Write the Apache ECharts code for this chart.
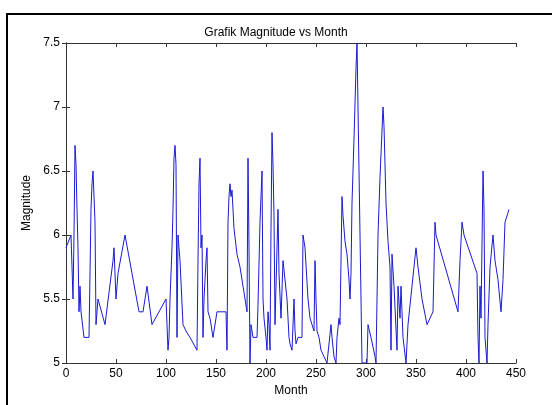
<!DOCTYPE html>
<html>
<head>
<meta charset="utf-8">
<script src="https://cdn.jsdelivr.net/npm/echarts@6/dist/echarts.min.js"></script>
<style>
html,body{margin:0;padding:0;background:#fff;}
#chart{width:552px;height:405px;}
</style>
</head>
<body>
<div id="chart"></div>
<script>
const titleText = 'Grafik Magnitude vs Month';
const xName = 'Month';
const yName = 'Magnitude';
const months = [0,5,7,8,9,10,11,12,13,14,15,18,23,25,26,27,29,30,32,39,47,48,50,52,59,73,77,81,86,100,101,102,103,104,106,107,108,109,110,111,112,113,114,117,120,124,131,132,133,134,135,136,137,138,140,141,142,144,147,151,160,161,162,163,164,165,166,168,171,174,177,179,181,182,183,184,185,187,191,192,194,196,197,198,200,201,202,203,204,205,206,207,208,209,210,212,213,215,217,218,221,223,224,226,228,229,230,232,236,237,239,241,242,244,246,248,249,250,251,253,255,258,261,265,266,268,270,271,273,274,276,277,279,281,283,284,285,286,288,290,291,292,293,296,301,302,305,309,310,312,314,317,318,320,322,324,325,326,328,331,332,334,335,337,340,342,346,350,352,356,361,367,369,370,392,394,396,398,411,412,413,414,415,417,418,419,421,422,424,427,429,432,435,437,439,443];
const magnitudes = [5.9,6.0,5.5,6.0,6.7,6.55,6.2,5.9,5.4,5.6,5.4,5.2,5.2,6.2,6.4,6.5,6.1,5.3,5.5,5.3,5.8,5.9,5.5,5.7,6.0,5.4,5.4,5.6,5.3,5.5,5.3,5.1,5.2,5.5,5.9,6.2,6.6,6.7,6.55,5.2,6.0,5.9,5.8,5.3,5.25,5.2,5.1,5.8,6.4,6.6,5.9,6.0,5.2,5.5,5.8,5.9,5.4,5.35,5.2,5.4,5.4,5.1,6.1,6.3,6.4,6.3,6.35,6.05,5.85,5.75,5.6,5.5,5.4,6.6,5.9,5.0,5.3,5.2,5.2,5.45,6.1,6.5,5.5,5.35,5.2,5.1,5.4,5.3,5.1,6.05,6.8,6.55,6.15,5.3,5.6,6.2,5.7,5.35,5.8,5.8,5.5,5.2,5.15,5.1,5.5,5.25,5.15,5.2,5.2,6.0,5.9,5.9,5.5,5.35,5.35,5.25,5.8,5.5,5.25,5.2,5.1,5.05,5.0,5.3,5.2,5.05,5.0,5.2,5.35,5.3,6.3,6.15,5.95,5.85,5.65,5.5,5.7,6.25,6.75,7.3,7.5,7.5,6.5,5.0,5.0,5.3,5.2,5.05,5.0,6.0,6.45,7.0,6.85,6.25,5.95,5.75,5.1,5.85,5.6,5.1,5.6,5.35,5.6,5.2,5.0,5.3,5.6,5.9,5.75,5.5,5.3,5.4,6.1,6.0,5.4,5.8,6.1,6.0,5.7,5.2,5.0,5.6,5.35,6.5,6.2,5.2,5.0,5.3,5.75,6.0,5.8,5.65,5.4,5.65,6.1,6.2];
const xTicks = {min: 0, max: 450, interval: 50};
const yTicks = {min: 5, max: 7.5, interval: 0.5};

const chart = echarts.init(document.getElementById('chart'), null, {renderer: 'canvas'});
const font = 'Liberation Sans, Arial, sans-serif';
const boxAxisLine = {show: true, lineStyle: {color: '#333', width: 1}};
const inTick = {show: true, inside: true, length: 4, lineStyle: {color: '#333'}};
const data = months.map((m, i) => [m, magnitudes[i]]);

chart.setOption({
  backgroundColor: '#fff',
  animation: false,
  title: {
    text: titleText, left: 'center', top: 22,
    textStyle: {fontFamily: font, fontSize: 12, fontWeight: 'normal', color: '#000'}
  },
  grid: {left: 66, right: 36, top: 43, bottom: 42, show: false},
  xAxis: [
    {type: 'value', position: 'bottom', min: xTicks.min, max: xTicks.max, interval: xTicks.interval,
     name: xName, nameLocation: 'middle', nameGap: 15,
     nameTextStyle: {fontFamily: font, fontSize: 12, color: '#000'},
     axisLine: boxAxisLine, axisTick: inTick, splitLine: {show: false},
     axisLabel: {fontFamily: font, fontSize: 12, color: '#000', margin: 5}},
    {type: 'value', position: 'top', min: xTicks.min, max: xTicks.max, interval: xTicks.interval,
     axisLine: boxAxisLine, axisTick: inTick, splitLine: {show: false}, axisLabel: {show: false}}
  ],
  yAxis: [
    {type: 'value', position: 'left', min: yTicks.min, max: yTicks.max, interval: yTicks.interval,
     name: yName, nameLocation: 'middle', nameGap: 30, nameRotate: 90,
     nameTextStyle: {fontFamily: font, fontSize: 12, color: '#000'},
     axisLine: boxAxisLine, axisTick: inTick, splitLine: {show: false},
     axisLabel: {fontFamily: font, fontSize: 12, color: '#000', margin: 6}},
    {type: 'value', position: 'right', min: yTicks.min, max: yTicks.max, interval: yTicks.interval,
     axisLine: boxAxisLine, axisTick: inTick, splitLine: {show: false}, axisLabel: {show: false}}
  ],
  graphic: [{
    type: 'rect', silent: true, z: 100,
    shape: {x: 7, y: 14, width: 620, height: 480},
    style: {fill: 'none', stroke: '#000', lineWidth: 2}
  }],
  series: [{
    type: 'line', data: data, showSymbol: false, symbol: 'none',
    lineStyle: {color: '#1a1ad0', width: 1}, clip: true
  }]
});
</script>
</body>
</html>
